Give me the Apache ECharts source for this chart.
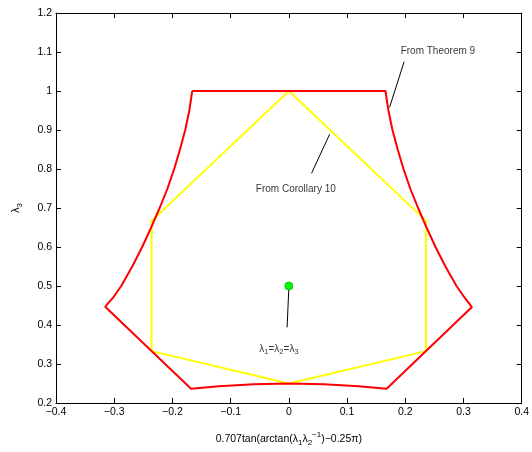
<!DOCTYPE html>
<html>
<head>
<meta charset="utf-8">
<script src="https://cdn.jsdelivr.net/npm/echarts@6/dist/echarts.min.js"></script>
<style>
html,body{margin:0;padding:0;background:#fff;}
#chart{width:532px;height:452px;}
</style>
</head>
<body>
<div id="chart"></div>
<script>
// Red boundary ("From Theorem 9")
const redX = [-0.166, 0.166, 0.171, 0.178, 0.187, 0.197, 0.2085, 0.222, 0.2365, 0.252, 0.269, 0.288, 0.302, 0.3145,
              0.168, 0.12, 0.06, 0, -0.06, -0.12, -0.168,
              -0.3155, -0.302, -0.288, -0.269, -0.252, -0.2365, -0.222, -0.2085, -0.197, -0.187, -0.178, -0.171, -0.166];
const redY = [1.0, 1.0, 0.95, 0.9, 0.85, 0.8, 0.75, 0.7, 0.65, 0.6, 0.55, 0.5, 0.47, 0.446,
              0.2365, 0.243, 0.248, 0.25, 0.248, 0.243, 0.2365,
              0.447, 0.47, 0.5, 0.55, 0.6, 0.65, 0.7, 0.75, 0.8, 0.85, 0.9, 0.95, 1.0];
// Yellow hexagon ("From Corollary 10")
const yellowX = [0, 0.2357, 0.2357, 0, -0.2357, -0.2357, 0];
const yellowY = [1.0, 0.667, 0.333, 0.25, 0.333, 0.667, 1.0];
// Green point lambda1=lambda2=lambda3
const pointX = [0];
const pointY = [0.5];
// Annotation leader lines (data coordinates)
const theoremLineX = [0.198, 0.173];
const theoremLineY = [1.075, 0.958];
const corollaryLineX = [0.070, 0.039];
const corollaryLineY = [0.889, 0.789];
const equalLineX = [0, -0.003];
const equalLineY = [0.496, 0.394];
// Annotation texts
const annoText = ['From Theorem 9', 'From Corollary 10', '{n|λ}{s|1}{n|=λ}{s|2}{n|=λ}{s|3}'];
const annoX = [0.256, 0.012, -0.017];
const annoY = [1.101, 0.748, 0.338];
// Axis ranges / ticks
const xMin = -0.4, xMax = 0.4, xStep = 0.1;
const yMin = 0.2, yMax = 1.2, yStep = 0.1;

const zip = (a, b) => a.map((v, i) => [v, b[i]]);
const FONT = 'Liberation Sans, Arial, Helvetica, sans-serif';
const fmt = v => String(+v.toFixed(2)).replace('-', '\u2212');

const chart = echarts.init(document.getElementById('chart'), null, {renderer: 'canvas'});

const baseAxis = {
  axisLine: {show: true, onZero: false, lineStyle: {color: '#000', width: 1}},
  axisTick: {show: true, inside: true, length: 5, lineStyle: {color: '#000', width: 1}},
  splitLine: {show: false}
};

const lineSeries = (xs, ys, color, width, z) => ({
  type: 'line', data: zip(xs, ys), showSymbol: false, symbol: 'none',
  lineStyle: {color: color, width: width}, z: z, animation: false, silent: true
});

chart.setOption({
  animation: false,
  backgroundColor: '#fff',
  grid: {left: 56, right: 8, top: 13, bottom: 47, containLabel: false},
  xAxis: [
    Object.assign({}, baseAxis, {
      type: 'value', min: xMin, max: xMax, interval: xStep, position: 'bottom',
      axisLabel: {color: '#000', fontSize: 10.5, fontFamily: FONT, margin: 4, formatter: fmt},
      name: '{n|0.707tan(arctan(λ}{s|1}{n|λ}{s|2}{p|−1}{n|)−0.25π)}',
      nameLocation: 'middle', nameGap: 28,
      nameTextStyle: {
        color: '#000', fontFamily: FONT,
        rich: {
          n: {fontSize: 10.5, fontFamily: FONT, color: '#000', lineHeight: 16, verticalAlign: 'middle'},
          s: {fontSize: 8, fontFamily: FONT, color: '#000', verticalAlign: 'bottom', lineHeight: 8},
          p: {fontSize: 8, fontFamily: FONT, color: '#000', verticalAlign: 'top', lineHeight: 8}
        }
      }
    }),
    Object.assign({}, baseAxis, {
      type: 'value', min: xMin, max: xMax, interval: xStep, position: 'top',
      axisLabel: {show: false}
    })
  ],
  yAxis: [
    Object.assign({}, baseAxis, {
      type: 'value', min: yMin, max: yMax, interval: yStep, position: 'left',
      axisLabel: {color: '#000', fontSize: 10.5, fontFamily: FONT, margin: 4, formatter: fmt},
      name: '{n|λ}{s|3}', nameLocation: 'middle', nameGap: 32, nameRotate: 90,
      nameTextStyle: {
        color: '#000', fontFamily: FONT,
        rich: {
          n: {fontSize: 10.5, fontFamily: FONT, color: '#000', lineHeight: 16, verticalAlign: 'middle'},
          s: {fontSize: 8, fontFamily: FONT, color: '#000', verticalAlign: 'bottom', lineHeight: 8}
        }
      }
    }),
    Object.assign({}, baseAxis, {
      type: 'value', min: yMin, max: yMax, interval: yStep, position: 'right',
      axisLabel: {show: false}
    })
  ],
  series: [
    lineSeries(yellowX, yellowY, '#ffff00', 2, 2),
    lineSeries(redX, redY, '#ff0000', 2, 3),
    lineSeries(theoremLineX, theoremLineY, '#000', 1, 4),
    lineSeries(corollaryLineX, corollaryLineY, '#000', 1, 4),
    lineSeries(equalLineX, equalLineY, '#000', 1, 4),
    {
      type: 'scatter', data: zip(pointX, pointY), symbol: 'circle', symbolSize: 8,
      itemStyle: {color: '#00ff00', borderColor: '#00b000', borderWidth: 0.8, opacity: 1},
      z: 5, silent: true
    },
    {
      type: 'scatter', symbolSize: 0, z: 6, silent: true,
      data: annoX.map((x, i) => ({value: [x, annoY[i]], name: annoText[i]})),
      label: {
        show: true, position: 'inside', formatter: p => p.name,
        color: '#000', fontSize: 10, fontFamily: FONT,
        rich: {
          n: {fontSize: 10, fontFamily: FONT, color: '#000', lineHeight: 14, verticalAlign: 'middle'},
          s: {fontSize: 7.5, fontFamily: FONT, color: '#000', verticalAlign: 'bottom', lineHeight: 7}
        }
      }
    }
  ]
});
</script>
</body>
</html>
